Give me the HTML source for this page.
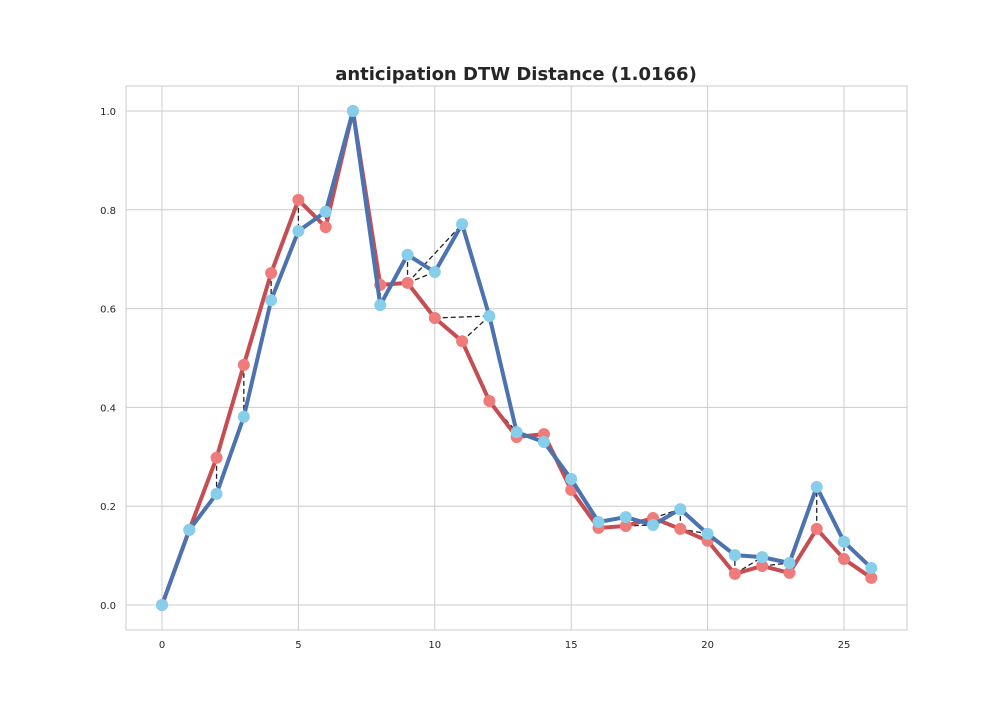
<!DOCTYPE html>
<html><head><meta charset="utf-8"><style>
html,body{margin:0;padding:0;background:#fff;}
svg{display:block;font-family:"DejaVu Sans","Liberation Sans",sans-serif;}
</style></head><body>
<svg id="chart" width="1008" height="720">
<text x="516" y="80" text-anchor="middle" font-size="18" font-weight="bold" fill="#262626">anticipation DTW Distance (1.0166)</text>
<rect x="126" y="86" width="781" height="544" fill="none" stroke="#cccccc"/>
<g id="grid"></g><g id="links"></g><g id="series"></g><g id="ticks"></g>
</svg>
<script>
const seriesA = [0,0.152,0.298,0.486,0.672,0.820,0.765,1.0,0.648,0.652,0.581,0.534,0.413,0.340,0.346,0.233,0.156,0.160,0.176,0.154,0.130,0.063,0.079,0.065,0.154,0.093,0.055];
const seriesB = [0,0.152,0.225,0.381,0.617,0.757,0.796,1.0,0.607,0.709,0.674,0.771,0.585,0.350,0.330,0.255,0.168,0.178,0.162,0.194,0.144,0.101,0.097,0.085,0.239,0.128,0.075];
const pathA = [0,1,2,3,4,5,6,7,8,9,9,9,10,11,12,13,14,15,16,17,17,18,19,19,20,21,21,22,23,24,25,26];
const pathB = [0,1,2,3,4,5,6,7,8,9,10,11,12,12,13,13,14,15,16,17,18,19,19,20,20,21,22,23,23,24,25,26];
const xTicks = [0,5,10,15,20,25];
const yTicks = [0.0,0.2,0.4,0.6,0.8,1.0];
const NS="http://www.w3.org/2000/svg";
const X = v => 162 + v*27.28;
const Y = v => 605 - v*494;
function mk(tag, attrs, parent){const e=document.createElementNS(NS,tag);for(const k in attrs)e.setAttribute(k,attrs[k]);document.getElementById(parent).appendChild(e);return e;}
xTicks.forEach(t=>{
  const l=mk('line',{x1:X(t),x2:X(t),y1:86,y2:630,stroke:'#cccccc'},'grid');
  
  
  const tx=mk('text',{x:X(t),y:648,'text-anchor':'middle','font-size':10,fill:'#262626'},'ticks');
  tx.textContent=t;
  
  
});
yTicks.forEach(t=>{
  const l=mk('line',{x1:126,x2:907,y1:Y(t),y2:Y(t),stroke:'#cccccc'},'grid');
  
  
  const tx=mk('text',{x:116,y:Y(t)+4,'text-anchor':'end','font-size':10,fill:'#262626'},'ticks');
  tx.textContent=t.toFixed(1);
  
  
});
pathA.forEach((a,i)=>{
  const b=pathB[i];
  const l=mk('line',{x1:X(a),y1:Y(seriesA[a]),x2:X(b),y2:Y(seriesB[b]),stroke:'#222','stroke-width':1.3,'stroke-dasharray':'5,3'},'links');
  
  
});
function drawSeries(data,line,dot,name){
  const p=mk('polyline',{points:data.map((v,i)=>X(i)+','+Y(v)).join(' '),fill:'none',stroke:line,'stroke-width':4,'stroke-linejoin':'round'},'series');
  
  
  data.forEach((v,i)=>{
    const c=mk('circle',{cx:X(i),cy:Y(v),r:6,fill:dot},'series');
    
    
  });
}
drawSeries(seriesA,'#c44e52','#f07b7b','series-a');
drawSeries(seriesB,'#4c72b0','#87ceeb','series-b');
</script>
</body></html>
